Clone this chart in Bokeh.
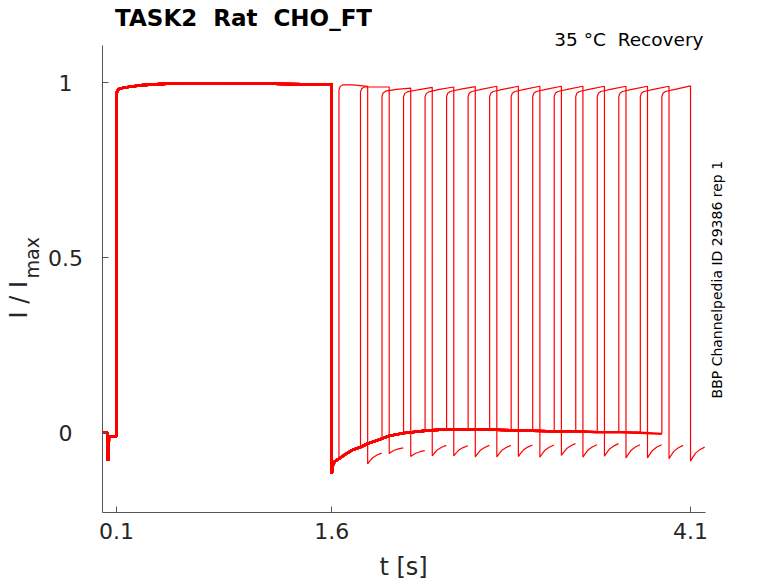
import math
from bokeh.plotting import figure
from bokeh.models import (Range1d, FixedTicker, Label, NumeralTickFormatter, ColumnDataSource,
                          CustomJSTickFormatter)
from bokeh.embed import file_html
from bokeh.resources import INLINE

# ---------------- data ----------------
# shared conditioning pulse (all traces)
t_pre = [0.0, 0.035, 0.037, 0.041, 0.045, 0.047, 0.099, 0.100, 0.104, 0.114, 0.15, 0.20,
         0.27, 0.38, 0.48, 0.60, 0.80, 1.00, 1.20, 1.40, 1.60]
y_pre = [0.0, 0.0, -0.06, -0.08, -0.06, -0.01, -0.01, 0.965, 0.975, 0.982, 0.986, 0.989,
         0.993, 0.996, 0.998, 0.999, 0.999, 0.998, 0.997, 0.996, 0.996]

# shared recovery after the conditioning pulse
t_rec = [1.600, 1.605, 1.620, 1.650, 1.700, 1.750, 1.800, 1.850, 1.900, 1.950, 2.000, 2.100,
         2.250, 2.400, 2.550, 2.700, 2.850, 3.000, 3.150, 3.300, 3.450, 3.600, 3.750, 3.900]
y_rec = [-0.117, -0.095, -0.082, -0.074, -0.060, -0.048, -0.041, -0.031, -0.024, -0.017, -0.009, -0.001,
         0.006, 0.010, 0.010, 0.009, 0.007, 0.006, 0.004, 0.004, 0.002, 0.002, 0.000, -0.003]

# test pulses (one per trace)
onsets = [1.65, 1.80, 1.95, 2.10, 2.25, 2.40, 2.55, 2.70, 2.85, 3.00, 3.15, 3.30, 3.45, 3.60, 3.75, 3.90]
offsets = [1.85, 2.00, 2.15, 2.30, 2.45, 2.60, 2.75, 2.90, 3.05, 3.20, 3.35, 3.50, 3.65, 3.80, 3.95, 4.10]
top_knee = [0.994, 0.988, 0.976, 0.974, 0.974, 0.975, 0.975, 0.975, 0.975, 0.975, 0.975, 0.975, 0.975, 0.975, 0.975, 0.975]
top_mid = [0.994, 0.988, 0.981, 0.980, 0.981, 0.982, 0.982, 0.982, 0.982, 0.982, 0.982, 0.982, 0.982, 0.982, 0.982, 0.982]
top_end = [0.990, 0.988, 0.985, 0.987, 0.988, 0.989, 0.990, 0.990, 0.990, 0.990, 0.990, 0.990, 0.990, 0.990, 0.990, 0.991]
top_dt = [0.0, 0.008, 0.025, 0.10, 0.20]
top_round = [-0.014, -0.005, 0.0]

# tail currents after each test pulse
hook_min = [-0.089, -0.059, -0.068, -0.066, -0.066, -0.069, -0.069, -0.068, -0.070, -0.065,
            -0.070, -0.067, -0.072, -0.072, -0.074, -0.081]
hook_end = [-0.058, -0.043, -0.051, -0.036, -0.037, -0.036, -0.036, -0.035, -0.035, -0.031,
            -0.034, -0.031, -0.034, -0.034, -0.036, -0.041]
hook_dt = [0.0, 0.014, 0.035, 0.065, 0.098]
hook_frac = [0.0, 0.25, 0.57, 0.82, 1.0]

x_ticks = [0.1, 1.6, 4.1]
y_ticks = [0, 0.5, 1]
y_tick_labels = ["0", "0.5", "1"]
x_axis_span = (0.0, 4.204)
y_axis_span = (-0.2277, 1.1066)

# ---------------- build traces ----------------
shared_xs, shared_ys, pulse_xs, pulse_ys = [], [], [], []
for k, on in enumerate(onsets):
    n = t_rec.index(on) + 1
    shared_xs.append(t_pre + t_rec[:n])
    shared_ys.append(y_pre + y_rec[:n])
    base = y_rec[n - 1]
    tops = [top_knee[k] + top_round[0], top_knee[k] + top_round[1], top_knee[k], top_mid[k], top_end[k]]
    xs = [on] + [on + d for d in top_dt] + [offsets[k] + d for d in hook_dt]
    ys = [base] + tops + [hook_min[k] + f * (hook_end[k] - hook_min[k]) for f in hook_frac]
    pulse_xs.append(xs)
    pulse_ys.append(ys)

# The frame covers the whole canvas; axes are placed at fixed data locations
p = figure(width=778, height=583, output_backend="svg", toolbar_location=None, title=None,
           x_range=Range1d(-0.7087, 4.7129), y_range=Range1d(-0.4306, 1.2351),
           min_border=0)
p.outline_line_color = None
p.xgrid.visible = False
p.ygrid.visible = False
p.background_fill_color = "white"

p.multi_line(xs="xs", ys="ys", source=ColumnDataSource(dict(xs=pulse_xs, ys=pulse_ys)),
             line_color="#ff0000", line_width=1.2)
p.multi_line(xs="xs", ys="ys", source=ColumnDataSource(dict(xs=shared_xs, ys=shared_ys)),
             line_color="#ff0000", line_width=2.4)

for ax in (p.xaxis[0], p.yaxis[0]):
    ax.axis_line_color = "#555555"
    ax.major_tick_line_color = "#555555"
    ax.minor_tick_line_color = None
    ax.major_tick_in = 6
    ax.major_tick_out = 0
    ax.major_label_text_font = "DejaVu Sans"
    ax.major_label_text_font_size = "22px"
    ax.major_label_text_color = "#262626"
p.xaxis.ticker = FixedTicker(ticks=x_ticks)
p.yaxis.ticker = FixedTicker(ticks=y_ticks)
p.xaxis.formatter = NumeralTickFormatter(format="0.0")
# y tick labels are drawn centred (as in the reference) by Labels below
p.yaxis.formatter = CustomJSTickFormatter(code="return ''")
p.xaxis.fixed_location = y_axis_span[0]
p.yaxis.fixed_location = x_axis_span[0]
p.xaxis.bounds = x_axis_span
p.yaxis.bounds = y_axis_span
p.xaxis.major_label_standoff = 11

def lab(text, x, y, size, align="left", angle=0.0, bold=False, color="#000000"):
    p.add_layout(Label(x=x, y=y, text=text, text_font="DejaVu Sans", text_font_size=size,
                       text_align=align, text_baseline="alphabetic", angle=angle,
                       text_font_style="bold" if bold else "normal", text_color=color))

for v, s in zip(y_ticks, y_tick_labels):
    lab(s, -0.2557, v, "22px", align="center", color="#262626")

SP2 = " \u00a0"  # two visible spaces
lab("TASK2" + SP2 + "Rat" + SP2 + "CHO_FT", 0.09, 1.184, "23px", bold=True)
lab("35 °C" + SP2 + "Recovery", 4.19, 1.1246, "18.5px", align="right")
lab("BBP Channelpedia ID 29386 rep 1", 4.286, 0.4374, "14px", align="center", angle=math.pi / 2)
lab("t [s]", 2.1, -0.383, "24px", align="center", color="#262626")
lab("I / I", -0.583, 0.3266, "24px", angle=math.pi / 2, color="#262626")
lab("max", -0.486, 0.441, "19px", angle=math.pi / 2, color="#262626")

open("out.html", "w").write(file_html(p, INLINE))
